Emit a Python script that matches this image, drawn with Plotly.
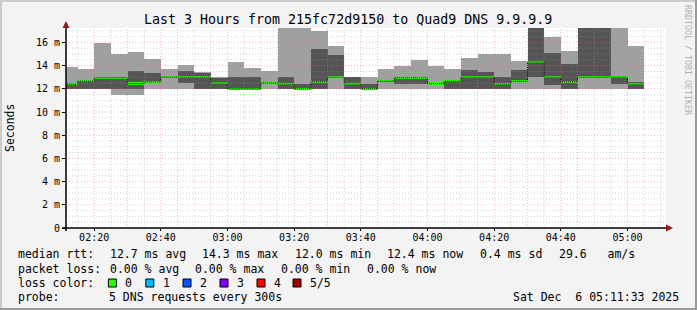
import plotly.graph_objects as go
import pandas as pd

# ---------------- data (ms) ----------------
start_time = "2025-12-06 02:10:00"
step_seconds = 300
ping_min = [12.0, 12.0, 12.0, 11.5, 11.5, 12.0, 12.0, 12.0, 12.0, 12.0,
            12.0, 12.0, 12.0, 12.0, 12.0, 12.0, 12.0, 12.0, 12.0, 12.0,
            12.0, 12.0, 12.0, 12.0, 12.0, 12.0, 12.0, 12.0, 12.0, 12.0,
            12.0, 12.0, 12.0, 12.0, 12.0]
ping_2 = [12.0, 12.0, 12.0, 12.0, 12.0, 12.55, 12.95, 12.5, 12.0, 12.0,
          12.0, 12.0, 12.45, 12.0, 12.0, 12.0, 12.95, 12.0, 12.0, 12.6,
          12.45, 12.45, 12.4, 12.0, 12.0, 12.0, 12.0, 12.6, 13.0, 12.35,
          12.0, 12.95, 12.95, 12.4, 12.0]
ping_median = [12.4, 12.65, 12.95, 12.95, 12.45, 12.6, 13.0, 13.0, 13.0, 12.5,
               12.0, 12.0, 12.5, 12.4, 12.0, 12.6, 13.0, 12.4, 12.0, 12.65,
               12.95, 12.95, 12.45, 12.65, 13.0, 13.0, 12.4, 12.65, 14.3, 13.0,
               12.6, 13.0, 13.0, 13.0, 12.4]
ping_4 = [12.45, 12.65, 13.0, 13.0, 13.5, 13.4, 13.05, 13.5, 13.4, 12.95,
          13.0, 13.0, 12.55, 13.0, 12.45, 15.4, 14.9, 13.0, 12.45, 12.7,
          13.0, 13.0, 12.5, 12.7, 13.6, 13.45, 13.0, 13.6, 17.4, 15.05,
          14.1, 17.5, 17.5, 13.05, 12.6]
ping_max = [13.85, 13.7, 15.95, 15.0, 15.15, 14.55, 13.7, 14.05, 13.45, 13.0,
            14.3, 13.8, 13.5, 17.3, 17.5, 17.0, 15.7, 13.0, 13.0, 13.7,
            14.0, 14.5, 14.0, 13.7, 14.65, 15.0, 15.0, 14.4, 17.5, 16.45,
            15.25, 17.6, 17.6, 17.5, 15.7]
y_tick_values = [0, 2, 4, 6, 8, 10, 12, 14, 16]
y_tick_labels = ["0", "2 m", "4 m", "6 m", "8 m", "10 m", "12 m", "14 m", "16 m"]
x_range = ["2025-12-06 02:11:33", "2025-12-06 05:11:33"]

title = "Last 3 Hours from 215fc72d9150 to Quad9 DNS 9.9.9.9"
loss_colors = ["#26ff00", "#00b8ff", "#0059ff", "#7e00ff", "#ff0000", "#a10000"]
loss_labels = ["0", "1", "2", "3", "4", "5/5"]
rtt_items = ["median rtt:", "12.7 ms avg", "14.3 ms max", "12.0 ms min", "12.4 ms now",
             "0.4 ms sd", "29.6   am/s"]
loss_items = ["packet loss:", "0.00 % avg", "0.00 % max", "0.00 % min", "0.00 % now"]

# ---------------- geometry helpers ----------------
W, H = 697, 310
L, R, T, B = 66, 31, 28, 82
PW, PH = W - L - R, H - T - B
Y_MAX = PH / 11.6


def px(x):
    return (x - L) / PW


def py(y):
    return (H - B - y) / PH


n = len(ping_median)
t0 = pd.Timestamp(start_time)
step = pd.Timedelta(seconds=step_seconds)
starts = [t0 + step * i for i in range(n)]
centers = [s + step / 2 for s in starts]
width_ms = [step_seconds * 1000] * n

fig = go.Figure()
fig.add_trace(go.Bar(x=centers, base=ping_min,
                     y=[b - a for a, b in zip(ping_min, ping_max)],
                     width=width_ms, marker=dict(color="#a0a0a0", line=dict(width=0)),
                     hoverinfo="skip"))
fig.add_trace(go.Bar(x=centers, base=ping_2,
                     y=[b - a for a, b in zip(ping_2, ping_4)],
                     width=width_ms, marker=dict(color="#555555", line=dict(width=0)),
                     hoverinfo="skip"))
fig.add_trace(go.Scatter(x=starts + [starts[-1] + step], y=ping_median + [ping_median[-1]],
                         mode="lines", line=dict(shape="hv", color="#000000", width=1, dash="1px,1px"),
                         hoverinfo="skip"))
band = 0.2
fig.add_trace(go.Bar(x=centers, base=[m - band / 2 for m in ping_median],
                     y=[band] * n, width=width_ms,
                     marker=dict(color=loss_colors[0], line=dict(width=0)), hoverinfo="skip"))

shapes = []
# grid drawn over the data (as rrdtool does)
x1 = pd.Timestamp(x_range[1])
g = pd.Timestamp("2025-12-06 02:15:00")
while g < x1:
    major = (g.minute % 20 == 0)
    shapes.append(dict(type="line", xref="x", yref="paper", x0=g, x1=g, y0=0, y1=1,
                       layer="above",
                       line=dict(color="rgba(255,90,90,0.45)" if major else "rgba(150,150,150,0.45)",
                                 width=1, dash="1px,2px")))
    g += pd.Timedelta(minutes=5)
v = 0.5
while v < Y_MAX:
    major = abs(v / 2 - round(v / 2)) < 1e-9
    shapes.append(dict(type="line", xref="paper", yref="y", x0=0, x1=1, y0=v, y1=v,
                       layer="above",
                       line=dict(color="rgba(255,90,90,0.45)" if major else "rgba(150,150,150,0.45)",
                                 width=1, dash="1px,2px")))
    v += 0.5

# axes lines and arrows
shapes.append(dict(type="line", xref="paper", yref="paper", x0=px(62), x1=px(668), y0=0, y1=0,
                   layer="above", line=dict(color="#000000", width=1.5)))
shapes.append(dict(type="line", xref="paper", yref="paper", x0=0, x1=0, y0=py(231), y1=py(25),
                   layer="above", line=dict(color="#000000", width=1.5)))
shapes.append(dict(type="path", xref="paper", yref="paper", layer="above",
                   path=f"M {px(673)},{py(228)} L {px(666)},{py(224.5)} L {px(666)},{py(231.5)} Z",
                   fillcolor="#8b1a1a", line=dict(width=0)))
shapes.append(dict(type="path", xref="paper", yref="paper", layer="above",
                   path=f"M {px(66)},{py(21)} L {px(62.5)},{py(28)} L {px(69.5)},{py(28)} Z",
                   fillcolor="#8b1a1a", line=dict(width=0)))

# outer 3D border
shapes += [
    dict(type="rect", xref="paper", yref="paper", x0=px(0), x1=px(2), y0=py(310), y1=py(0),
         fillcolor="#cbcbcb", line=dict(width=0), layer="above"),
    dict(type="rect", xref="paper", yref="paper", x0=px(0), x1=px(697), y0=py(2), y1=py(0),
         fillcolor="#cbcbcb", line=dict(width=0), layer="above"),
    dict(type="rect", xref="paper", yref="paper", x0=px(695), x1=px(697), y0=py(310), y1=py(0),
         fillcolor="#999999", line=dict(width=0), layer="above"),
    dict(type="rect", xref="paper", yref="paper", x0=px(0), x1=px(697), y0=py(310), y1=py(308),
         fillcolor="#999999", line=dict(width=0), layer="above"),
]

MONO = "DejaVu Sans Mono"
ann = []


def text(x, y, s, size=11.5, anchor="left", color="#000000", angle=0):
    ann.append(dict(x=px(x), y=py(y), xref="paper", yref="paper", text=s, showarrow=False,
                    xanchor=anchor, yanchor="middle", textangle=angle,
                    font=dict(family=MONO, size=size, color=color)))


text(348, 19, title, size=13.3, anchor="center")
text(10, 128, "Seconds", size=11.5, anchor="center", angle=-90)
text(688, 60, "RRDTOOL / TOBI OETIKER", size=8.3, anchor="center", color="#b0b0b0", angle=90)

row1_x = [16, 107.6, 200.2, 292.8, 385.4, 478, 556.6]
row2_x = [16, 107.6, 193, 279, 365]
for x, s in zip(row1_x, rtt_items):
    text(x, 254, s.replace(" ", "&nbsp;"))
for x, s in zip(row2_x, loss_items):
    text(x, 268.5, s)
text(16, 283, "loss color:")
box_x = [108.4, 145.8, 183, 220, 257, 293]
for bx, c, lab in zip(box_x, loss_colors, loss_labels):
    shapes.append(dict(type="rect", xref="paper", yref="paper", x0=px(bx), x1=px(bx + 8),
                       y0=py(287), y1=py(279), fillcolor=c, line=dict(color="#000000", width=1),
                       layer="above"))
    text(bx + 15, 283, lab)
text(16, 297, "probe:")
text(107, 297, "5 DNS requests every 300s")
text(681, 297, "Sat Dec&nbsp;&nbsp;6 05:11:33 2025", anchor="right")

tick_times = pd.date_range("2025-12-06 02:20:00", "2025-12-06 05:00:00", freq="20min")
fig.update_layout(
    width=W, height=H, margin=dict(l=L, r=R, t=T, b=B, pad=0),
    paper_bgcolor="#f3f3f3", plot_bgcolor="#ffffff",
    barmode="overlay", bargap=0, showlegend=False,
    shapes=shapes, annotations=ann,
    xaxis=dict(type="date", range=x_range, tickvals=list(tick_times),
               ticktext=[t.strftime("%H:%M") for t in tick_times],
               showgrid=False, zeroline=False, showline=False,
               ticks="outside", ticklen=2, tickcolor="#000000", ticklabelstandoff=-2,
               tickfont=dict(family=MONO, size=10, color="#000000")),
    yaxis=dict(range=[0, Y_MAX], tickvals=y_tick_values, ticktext=y_tick_labels,
               showgrid=False, zeroline=False, showline=False,
               ticks="outside", ticklen=3, tickcolor="#000000",
               tickfont=dict(family=MONO, size=10, color="#000000")),
)
fig.write_html("out.html")
